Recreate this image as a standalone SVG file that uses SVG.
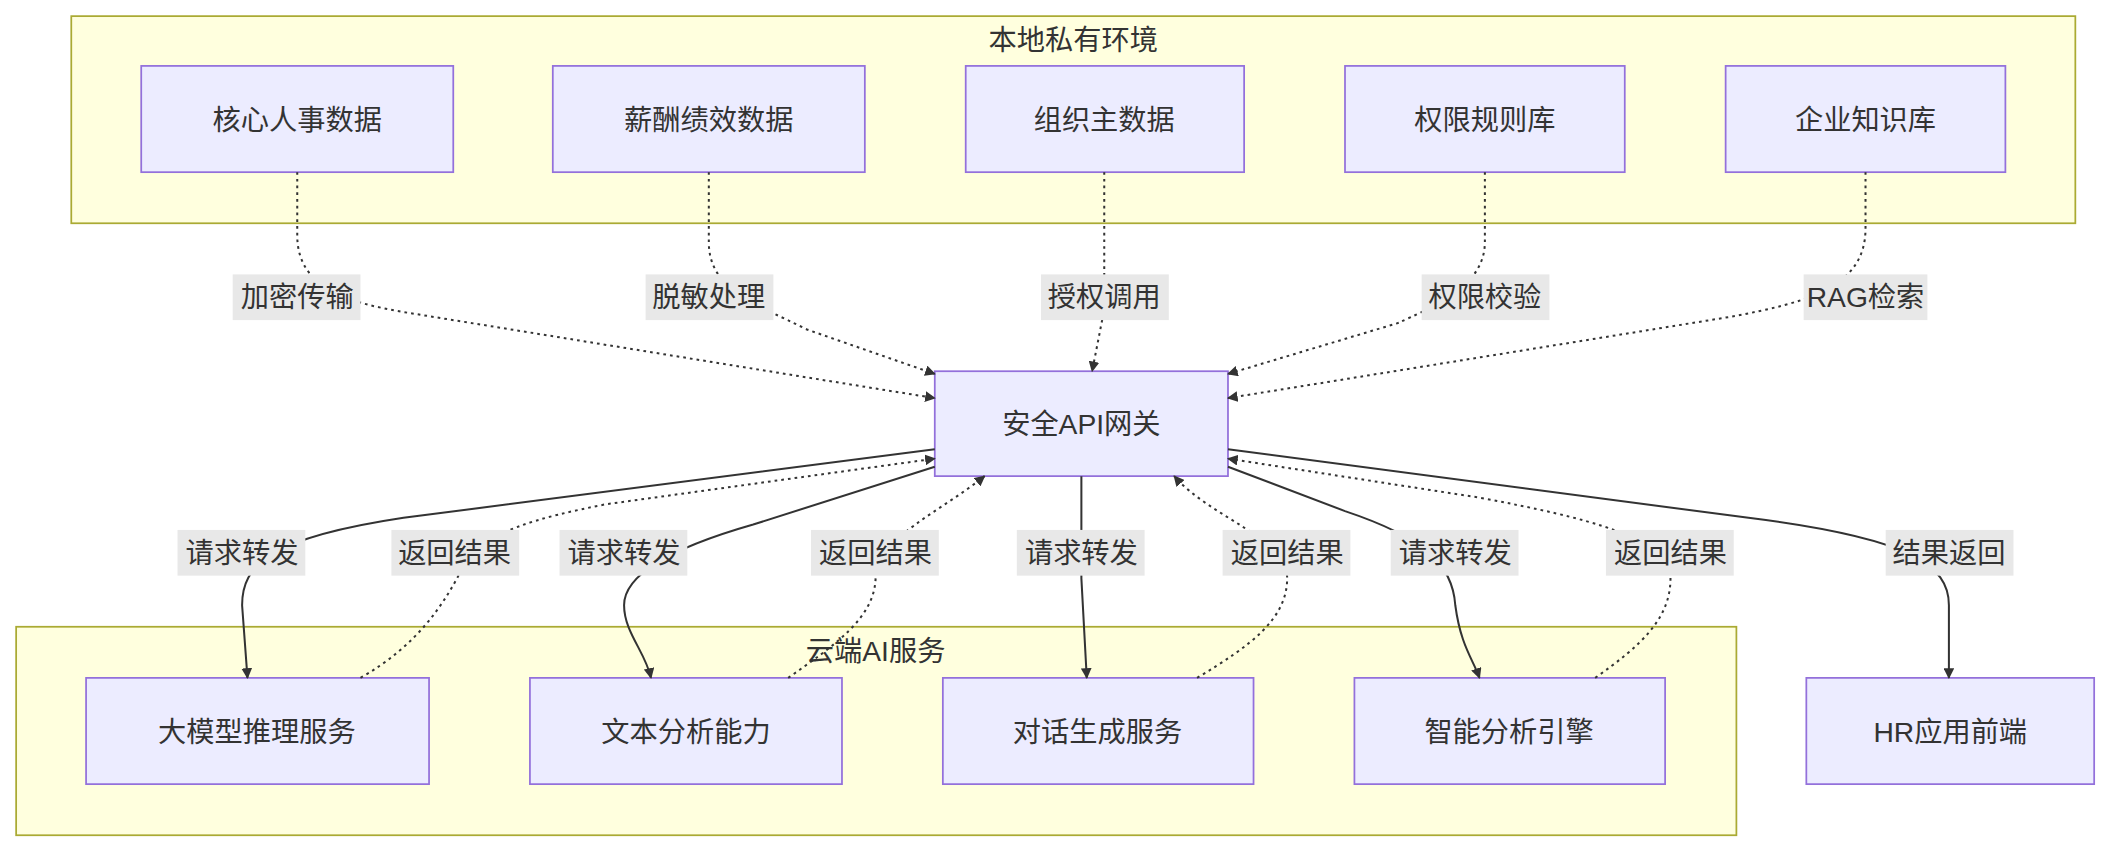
<svg xmlns="http://www.w3.org/2000/svg" width="2109" height="852" viewBox="0 0 2109 852">
<defs>
<style>
text{font-family:"Liberation Sans","Noto Sans CJK SC",sans-serif;font-size:21px;fill:#333;text-anchor:middle;dominant-baseline:central}
.cl{fill:#ffffde;stroke:#aaaa33;stroke-width:1.3}
.nd{fill:#ececff;stroke:#9370db;stroke-width:1.3}
.e{fill:none;stroke:#333;stroke-width:1.5}
.d{stroke-dasharray:2 3}
.lb{fill:#e8e8e8}
</style>
<marker id="a" viewBox="0 0 10 10" refX="9" refY="5" markerWidth="8" markerHeight="8" orient="auto-start-reverse" markerUnits="userSpaceOnUse"><path d="M0,0L10,5L0,10z" fill="#333"/></marker>
</defs>
<rect width="2109" height="852" fill="#fff"/>
<g transform="scale(1.345)">
<g id="cluster-local"><rect class="cl" x="53" y="12" width="1490" height="154"/><text x="798" y="30">本地私有环境</text></g>
<g id="cluster-cloud"><rect class="cl" x="12" y="466" width="1279" height="155"/><text x="651" y="484">云端AI服务</text></g>
<g id="n1"><rect class="nd" x="105" y="49" width="232" height="79"/><text x="221" y="89">核心人事数据</text></g>
<g id="n2"><rect class="nd" x="411" y="49" width="232" height="79"/><text x="527" y="89">薪酬绩效数据</text></g>
<g id="n3"><rect class="nd" x="718" y="49" width="207" height="79"/><text x="821" y="89">组织主数据</text></g>
<g id="n4"><rect class="nd" x="1000" y="49" width="208" height="79"/><text x="1104" y="89">权限规则库</text></g>
<g id="n5"><rect class="nd" x="1283" y="49" width="208" height="79"/><text x="1387" y="89">企业知识库</text></g>
<g id="gw"><rect class="nd" x="695" y="276" width="218" height="78"/><text x="804" y="315">安全API网关</text></g>
<g id="c1"><rect class="nd" x="64" y="504" width="255" height="79"/><text x="191" y="544">大模型推理服务</text></g>
<g id="c2"><rect class="nd" x="394" y="504" width="232" height="79"/><text x="510" y="544">文本分析能力</text></g>
<g id="c3"><rect class="nd" x="701" y="504" width="231" height="79"/><text x="816" y="544">对话生成服务</text></g>
<g id="c4"><rect class="nd" x="1007" y="504" width="231" height="79"/><text x="1122" y="544">智能分析引擎</text></g>
<g id="hr"><rect class="nd" x="1343" y="504" width="214" height="79"/><text x="1450" y="544">HR应用前端</text></g>
<g id="edges">
<path class="e d" marker-end="url(#a)" d="M221,128V175C221,215 260,225 300,232L695,296"/>
<path class="e d" marker-end="url(#a)" d="M527,128V180C527,215 560,225 600,245L695,278"/>
<path class="e d" marker-end="url(#a)" d="M821,128V230L812,276"/>
<path class="e d" marker-end="url(#a)" d="M1104,128V180C1104,215 1060,230 1040,240L913,278"/>
<path class="e d" marker-end="url(#a)" d="M1387,128V170C1387,215 1340,225 1290,235L913,296"/>
<path class="e" marker-end="url(#a)" d="M695,334L300,385C200,400 180,420 180,450L184,504"/>
<path class="e d" marker-end="url(#a)" d="M268,504C310,480 330,450 345,420C360,395 400,385 450,375L695,341"/>
<path class="e" marker-end="url(#a)" d="M695,347L560,390C490,410 464,430 464,450C464,470 480,485 484,504"/>
<path class="e d" marker-end="url(#a)" d="M586,504C620,480 650,460 651,430C652,400 700,380 732,354"/>
<path class="e" marker-end="url(#a)" d="M804,354V430L808,504"/>
<path class="e d" marker-end="url(#a)" d="M890,504C930,480 957,460 957,430C957,400 900,385 873,354"/>
<path class="e" marker-end="url(#a)" d="M913,347L1000,380C1060,400 1080,420 1082,450C1086,480 1095,490 1100,504"/>
<path class="e d" marker-end="url(#a)" d="M1186,504C1220,480 1242,460 1242,430C1242,400 1180,385 1100,370L913,341"/>
<path class="e" marker-end="url(#a)" d="M913,334L1300,385C1420,400 1449,420 1449,450V504"/>
</g>
<g id="labels">
<rect class="lb" x="173" y="204" width="95" height="34"/><text x="221" y="221">加密传输</text>
<rect class="lb" x="480" y="204" width="95" height="34"/><text x="527" y="221">脱敏处理</text>
<rect class="lb" x="774" y="204" width="95" height="34"/><text x="821" y="221">授权调用</text>
<rect class="lb" x="1057" y="204" width="95" height="34"/><text x="1104" y="221">权限校验</text>
<rect class="lb" x="1341" y="204" width="92" height="34"/><text x="1387" y="221">RAG检索</text>
<rect class="lb" x="132" y="394" width="95" height="34"/><text x="180" y="411">请求转发</text>
<rect class="lb" x="291" y="394" width="95" height="34"/><text x="338" y="411">返回结果</text>
<rect class="lb" x="416" y="394" width="95" height="34"/><text x="464" y="411">请求转发</text>
<rect class="lb" x="603" y="394" width="95" height="34"/><text x="651" y="411">返回结果</text>
<rect class="lb" x="756" y="394" width="95" height="34"/><text x="804" y="411">请求转发</text>
<rect class="lb" x="909" y="394" width="95" height="34"/><text x="957" y="411">返回结果</text>
<rect class="lb" x="1034" y="394" width="95" height="34"/><text x="1082" y="411">请求转发</text>
<rect class="lb" x="1194" y="394" width="95" height="34"/><text x="1242" y="411">返回结果</text>
<rect class="lb" x="1402" y="394" width="95" height="34"/><text x="1449" y="411">结果返回</text>
</g>
</g>
</svg>
